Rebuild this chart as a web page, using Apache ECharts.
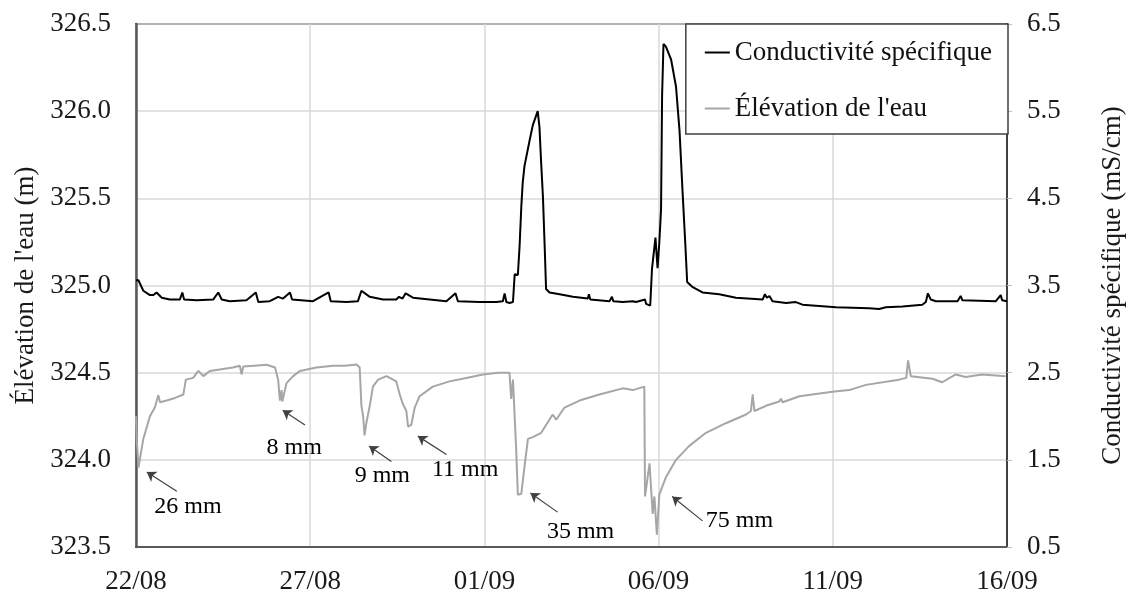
<!DOCTYPE html>
<html>
<head>
<meta charset="utf-8">
<script src="https://cdn.jsdelivr.net/npm/echarts@6/dist/echarts.min.js"></script>
<style>html,body{margin:0;padding:0;background:#fff}#c{width:1134px;height:595px}</style>
</head>
<body>
<div id="c"></div>
<script>
const xTickLabels = ['22/08', '27/08', '01/09', '06/09', '11/09', '16/09'];
const seriesNames = ['Conductivité spécifique', "Élévation de l'eau"];

// Conductivité spécifique (mS/cm) — days since 22/08
const condDays = [0, 0.07, 0.21, 0.40, 0.50, 0.59, 0.74, 0.97, 1.26, 1.33, 1.38, 1.74, 2.22, 2.36, 2.46, 2.69, 3.17, 3.44, 3.51, 3.84, 4.08, 4.22, 4.42, 4.48, 5.08, 5.53, 5.59, 6.04, 6.37, 6.47, 6.71, 7.09, 7.47, 7.55, 7.65, 7.74, 7.95, 8.43, 8.91, 9.17, 9.24, 9.86, 10.34, 10.53, 10.58, 10.63, 10.72, 10.82, 10.87, 10.96, 11.01, 11.06, 11.10, 11.15, 11.20, 11.30, 11.39, 11.53, 11.58, 11.63, 11.68, 11.73, 11.77, 11.87, 12.16, 12.54, 12.97, 13.00, 13.04, 13.59, 13.66, 13.70, 13.97, 14.26, 14.35, 14.61, 14.64, 14.76, 14.81, 14.91, 14.97, 15.02, 15.07, 15.10, 15.14, 15.21, 15.36, 15.50, 15.60, 15.69, 15.77, 15.82, 15.98, 16.26, 16.74, 17.22, 17.99, 18.05, 18.11, 18.18, 18.27, 18.66, 18.94, 19.13, 20.09, 21.04, 21.33, 21.52, 22.00, 22.57, 22.67, 22.73, 22.81, 22.96, 23.58, 23.67, 23.72, 24.68, 24.82, 24.86, 25.0];
const condValues = [3.56, 3.56, 3.44, 3.39, 3.39, 3.42, 3.36, 3.34, 3.34, 3.42, 3.34, 3.33, 3.34, 3.42, 3.34, 3.32, 3.33, 3.42, 3.31, 3.32, 3.37, 3.35, 3.42, 3.34, 3.32, 3.42, 3.32, 3.31, 3.32, 3.44, 3.37, 3.34, 3.34, 3.37, 3.35, 3.41, 3.36, 3.34, 3.32, 3.41, 3.32, 3.31, 3.31, 3.32, 3.41, 3.31, 3.30, 3.31, 3.63, 3.62, 3.95, 4.41, 4.68, 4.87, 4.89, 5.17, 5.34, 5.50, 5.32, 4.90, 4.52, 3.95, 3.46, 3.42, 3.40, 3.37, 3.35, 3.40, 3.34, 3.32, 3.37, 3.32, 3.31, 3.32, 3.31, 3.34, 3.29, 3.27, 3.69, 4.05, 3.70, 3.99, 4.37, 5.67, 6.27, 6.24, 6.09, 5.78, 5.28, 4.56, 3.95, 3.54, 3.48, 3.42, 3.40, 3.36, 3.34, 3.40, 3.36, 3.38, 3.32, 3.30, 3.31, 3.28, 3.25, 3.24, 3.23, 3.25, 3.26, 3.28, 3.31, 3.41, 3.34, 3.32, 3.32, 3.38, 3.33, 3.32, 3.39, 3.33, 3.32];

// Élévation de l'eau (m) — days since 22/08
const elevDays = [0, 0.02, 0.07, 0.11, 0.21, 0.40, 0.54, 0.64, 0.69, 0.88, 1.12, 1.36, 1.43, 1.64, 1.79, 1.93, 2.12, 2.45, 2.78, 2.98, 3.03, 3.08, 3.40, 3.75, 3.99, 4.08, 4.13, 4.18, 4.20, 4.32, 4.51, 4.70, 5.18, 5.66, 6.00, 6.33, 6.42, 6.47, 6.52, 6.56, 6.61, 6.71, 6.80, 6.95, 7.19, 7.38, 7.47, 7.57, 7.66, 7.76, 7.81, 7.90, 8.00, 8.14, 8.52, 9.00, 9.48, 9.96, 10.40, 10.72, 10.77, 10.82, 10.87, 10.91, 10.96, 11.06, 11.15, 11.25, 11.39, 11.63, 11.77, 11.96, 12.06, 12.30, 12.73, 13.30, 13.97, 14.26, 14.59, 14.61, 14.74, 14.78, 14.83, 14.88, 14.95, 15.02, 15.21, 15.50, 15.88, 16.36, 16.93, 17.51, 17.65, 17.70, 17.75, 18.08, 18.46, 18.51, 18.56, 19.04, 19.99, 20.47, 20.95, 21.90, 22.11, 22.16, 22.24, 22.86, 23.14, 23.53, 23.81, 24.29, 24.96];
const elevValues = [324.25, 324.12, 323.955, 323.96, 324.12, 324.25, 324.30, 324.37, 324.33, 324.34, 324.355, 324.375, 324.46, 324.47, 324.51, 324.48, 324.51, 324.52, 324.53, 324.54, 324.49, 324.535, 324.54, 324.545, 324.53, 324.46, 324.34, 324.40, 324.335, 324.44, 324.48, 324.51, 324.53, 324.54, 324.54, 324.547, 324.53, 324.31, 324.25, 324.14, 324.21, 324.31, 324.42, 324.46, 324.48, 324.46, 324.45, 324.375, 324.32, 324.28, 324.19, 324.20, 324.30, 324.365, 324.42, 324.45, 324.47, 324.49, 324.50, 324.50, 324.35, 324.46, 324.45, 324.07, 323.80, 323.805, 323.96, 324.12, 324.13, 324.155, 324.20, 324.26, 324.23, 324.30, 324.34, 324.375, 324.41, 324.40, 324.42, 323.79, 323.98, 323.85, 323.69, 323.79, 323.57, 323.80, 323.90, 324.00, 324.08, 324.155, 324.21, 324.26, 324.28, 324.375, 324.28, 324.31, 324.335, 324.35, 324.33, 324.365, 324.39, 324.40, 324.43, 324.46, 324.47, 324.57, 324.48, 324.465, 324.445, 324.49, 324.475, 324.49, 324.48];

// Rain annotations (precipitation labels)
const annoLabels = ['26 mm', '8 mm', '9 mm', '11 mm', '35 mm', '75 mm'];
const annoTextDays = [1.49, 4.54, 7.07, 9.45, 12.76, 17.32];
const annoTextElev = [323.73, 324.07, 323.91, 323.945, 323.59, 323.65];
const arrowTailDays = [1.17, 4.85, 7.33, 8.91, 12.10, 16.26];
const arrowTailElev = [323.82, 324.20, 323.99, 324.03, 323.70, 323.65];
const arrowHeadDays = [0.31, 4.21, 6.69, 8.09, 11.32, 15.39];
const arrowHeadElev = [323.93, 324.285, 324.08, 324.136, 323.81, 323.79];

const FONT = "'Liberation Serif', 'Times New Roman', serif";
const zip = (a, b) => a.map((v, i) => [v, b[i]]);

const chart = echarts.init(document.getElementById('c'));
chart.setOption({
  animation: false,
  backgroundColor: '#fff',
  textStyle: { fontFamily: FONT },
  grid: { left: 136, right: 126, top: 24, bottom: 48, show: true, borderColor: '#404040', borderWidth: 2, backgroundColor: 'transparent' },
  legend: {
    data: seriesNames,
    orient: 'vertical',
    right: 126, top: 24,
    padding: [15, 16, 12, 19],
    itemGap: 29,
    itemWidth: 25, itemHeight: 2,
    itemTextGap: 1,
    icon: 'rect',
    borderColor: '#404040', borderWidth: 1.5,
    backgroundColor: '#fff',
    textStyle: { fontFamily: FONT, fontSize: 27, color: '#111' }
  },
  xAxis: {
    type: 'value', min: 0, max: 25, interval: 5,
    axisLine: { show: true, lineStyle: { color: '#595959', width: 2 } },
    axisTick: { show: false },
    splitLine: { show: true, lineStyle: { color: '#d9d9d9', width: 1.5 } },
    axisLabel: { fontFamily: FONT, fontSize: 27, color: '#1a1a1a', margin: 21,
      formatter: v => xTickLabels[Math.round(v / 5)] }
  },
  yAxis: [
    {
      type: 'value', min: 323.5, max: 326.5, interval: 0.5, position: 'left',
      name: "Élévation de l'eau (m)", nameLocation: 'middle', nameRotate: 90, nameGap: 89,
      nameTextStyle: { fontFamily: FONT, fontSize: 27, color: '#1a1a1a' },
      axisLine: { show: true, lineStyle: { color: '#595959', width: 2.5 } },
      axisTick: { show: false },
      splitLine: { show: true, lineStyle: { color: '#d9d9d9', width: 1.5 } },
      axisLabel: { fontFamily: FONT, fontSize: 27, color: '#1a1a1a', margin: 25, formatter: v => v.toFixed(1) }
    },
    {
      type: 'value', min: 0.5, max: 6.5, interval: 1, position: 'right',
      name: 'Conductivité spécifique (mS/cm)', nameLocation: 'middle', nameRotate: 90, nameGap: 92,
      nameTextStyle: { fontFamily: FONT, fontSize: 27, color: '#1a1a1a' },
      axisLine: { show: true, lineStyle: { color: '#404040', width: 2 } },
      axisTick: { show: true, length: 5, lineStyle: { color: '#bfbfbf' } },
      splitLine: { show: false },
      axisLabel: { fontFamily: FONT, fontSize: 27, color: '#1a1a1a', margin: 20, formatter: v => v.toFixed(1) }
    }
  ],
  series: [
    {
      name: seriesNames[1], type: 'line', yAxisIndex: 0, data: zip(elevDays, elevValues),
      showSymbol: false, symbol: 'none', lineStyle: { color: '#a6a6a6', width: 2 }, itemStyle: { color: '#a6a6a6' },
      z: 2,
      markLine: {
        silent: true, symbol: ['none', 'arrow'], symbolSize: 9,
        lineStyle: { color: '#404040', width: 1.2, type: 'solid' },
        label: { show: false },
        data: arrowTailDays.map((d, i) => [
          { coord: [d, arrowTailElev[i]] },
          { coord: [arrowHeadDays[i], arrowHeadElev[i]] }
        ])
      }
    },
    {
      name: seriesNames[0], type: 'line', yAxisIndex: 1, data: zip(condDays, condValues),
      showSymbol: false, symbol: 'none', lineStyle: { color: '#000', width: 2 }, itemStyle: { color: '#000' },
      z: 3
    },
    {
      name: 'annotations', type: 'scatter', yAxisIndex: 0, symbolSize: 0,
      data: annoTextDays.map((d, i) => ({ value: [d, annoTextElev[i]], name: annoLabels[i] })),
      label: { show: true, position: 'inside', formatter: p => p.name, fontFamily: FONT, fontSize: 24,
        color: '#000', opacity: 1, textBorderWidth: 0 },
      itemStyle: { opacity: 1 },
      silent: true, z: 4
    }
  ]
});
</script>
</body>
</html>
